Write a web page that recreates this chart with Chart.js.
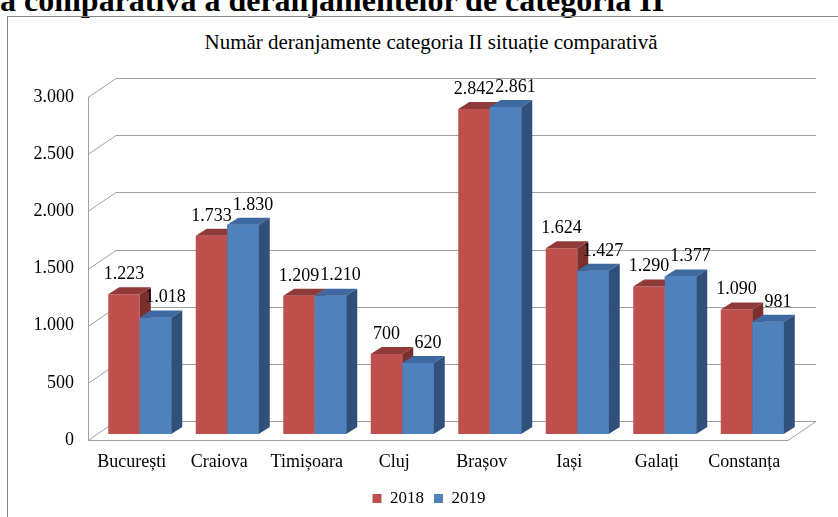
<!DOCTYPE html>
<html>
<head>
<meta charset="utf-8">
<script src="https://cdn.jsdelivr.net/npm/chart.js@4.4.0/dist/chart.umd.min.js"></script>
<style>
  body { margin: 0; background: #fff; overflow: hidden; }
  #wrap { position: relative; width: 838px; height: 517px; overflow: hidden; }
  #heading {
    position: absolute; left: 0; top: -16px; white-space: nowrap;
    font: bold 32px 'Liberation Serif', 'Times New Roman', serif; line-height: 32px; color: #000;
  }
  #box { position: absolute; left: 7px; top: 16px; width: 900px; height: 600px; border: 1px solid #868686; }
  #title {
    position: absolute; left: 0; width: 862px; top: 29px; text-align: center; white-space: nowrap;
    font: 21px 'Liberation Serif', 'Times New Roman', serif; line-height: 26px; color: #000;
  }
  #chart { position: absolute; left: 0; top: 0; }
</style>
</head>
<body>
<div id="wrap">
  <div id="heading">a comparativă a deranjamentelor de categoria II</div>
  <div id="box"></div>
  <div id="title">Număr deranjamente categoria II situație comparativă</div>
  <canvas id="chart" width="838" height="517"></canvas>
</div>
<script>
const cities = ['București', 'Craiova', 'Timișoara', 'Cluj', 'Brașov', 'Iași', 'Galați', 'Constanța'];
const values2018 = [1223, 1733, 1209, 700, 2842, 1624, 1290, 1090];
const values2019 = [1018, 1830, 1210, 620, 2861, 1427, 1377, 981];
const yTicks = [0, 500, 1000, 1500, 2000, 2500, 3000];

const FONT = "'Liberation Serif', 'Times New Roman', serif";
const colors = {
  red: '#c0504d', redTop: '#8f3a38', redSide: '#7b302e',
  blue: '#4f81bd', blueTop: '#3e68a0', blueSide: '#2f507b',
};

// 3D geometry (px)
const wall = { dx: 28, dy: -19 };
const barShift = { dx: 8, dy: -6 };
const barDepth = { dx: 11, dy: -7 };

const fmt = (v) => String(v).replace(/\B(?=(\d{3})+(?!\d))/g, '.');

const poly = (ctx, pts, fill) => {
  ctx.beginPath();
  ctx.moveTo(pts[0][0], pts[0][1]);
  pts.slice(1).forEach((p) => ctx.lineTo(p[0], p[1]));
  ctx.closePath();
  ctx.fillStyle = fill;
  ctx.fill();
};

const drawFaces = (ctx, bar, base, top, side) => {
  const x1 = bar.x - bar.width / 2;
  const x2 = bar.x + bar.width / 2;
  const yt = bar.y;
  poly(ctx, [[x1, yt], [x1 + barDepth.dx, yt + barDepth.dy], [x2 + barDepth.dx, yt + barDepth.dy], [x2, yt]], top);
  poly(ctx, [[x2, yt], [x2 + barDepth.dx, yt + barDepth.dy], [x2 + barDepth.dx, base + barDepth.dy], [x2, base]], side);
};

const threeD = {
  id: 'threeD',
  afterLayout(chart) {
    // legend sits a bit right of the canvas centre
    chart.legend.left += 30;
    chart.legend.right += 30;
  },
  beforeDatasetsDraw(chart) {
    const { ctx, chartArea: a, scales: { y } } = chart;
    ctx.save();
    ctx.strokeStyle = '#a0a0a0';
    ctx.lineWidth = 1;
    // floor
    const y0 = Math.round(y.getPixelForValue(0)) + 0.5;
    ctx.beginPath();
    ctx.moveTo(a.left, y0);
    ctx.lineTo(a.right, y0);
    ctx.lineTo(a.right + wall.dx, y0 + wall.dy);
    ctx.stroke();
    // back wall grid + left wall diagonals
    yTicks.forEach((t) => {
      const py = Math.round(y.getPixelForValue(t)) + 0.5;
      ctx.beginPath();
      ctx.moveTo(a.left, py);
      ctx.lineTo(a.left + wall.dx, py + wall.dy);
      ctx.lineTo(a.right + wall.dx, py + wall.dy);
      ctx.stroke();
    });
    // front left axis
    ctx.beginPath();
    ctx.moveTo(a.left + 0.5, y.getPixelForValue(3000));
    ctx.lineTo(a.left + 0.5, y0);
    ctx.stroke();
    ctx.restore();
  },
  beforeDatasetDraw(chart) {
    chart.ctx.save();
    chart.ctx.translate(barShift.dx, barShift.dy);
  },
  afterDatasetDraw(chart) {
    chart.ctx.restore();
  },
  afterDatasetsDraw(chart) {
    // red faces first, then blue front + faces on top of them
    const { ctx } = chart;
    const base = chart.scales.y.getPixelForValue(0);
    const red = chart.getDatasetMeta(0).data;
    const blue = chart.getDatasetMeta(1).data;
    ctx.save();
    ctx.translate(barShift.dx, barShift.dy);
    red.forEach((bar, i) => {
      drawFaces(ctx, bar, base, colors.redTop, colors.redSide);
      blue[i].draw(ctx);
      drawFaces(ctx, blue[i], base, colors.blueTop, colors.blueSide);
    });
    ctx.restore();
  },
  afterDraw(chart) {
    const { ctx } = chart;
    ctx.save();
    ctx.font = `18px ${FONT}`;
    ctx.fillStyle = '#000';
    ctx.textAlign = 'center';
    ctx.textBaseline = 'middle';
    chart.data.datasets.forEach((ds, i) => {
      const meta = chart.getDatasetMeta(i);
      meta.data.forEach((bar, j) => {
        const off = i === 0 ? 0 : 10;
        ctx.fillText(fmt(ds.data[j]), bar.x + barShift.dx + off, bar.y + barShift.dy - 20);
      });
    });
    ctx.restore();
  },
};

new Chart(document.getElementById('chart'), {
  type: 'bar',
  data: {
    labels: cities,
    datasets: [
      { label: '2018', data: values2018, backgroundColor: colors.red, clip: false },
      { label: '2019', data: values2019, backgroundColor: colors.blue, clip: false },
    ],
  },
  plugins: [threeD],
  options: {
    responsive: false,
    animation: false,
    events: [],
    datasets: { bar: { categoryPercentage: 0.72, barPercentage: 1 } },
    layout: { padding: { left: 10, right: 50, top: 97, bottom: 0 } },
    scales: {
      x: {
        grid: { display: false, drawTicks: false },
        border: { display: false },
        ticks: { color: '#000', font: { family: FONT, size: 18 }, padding: 11, maxRotation: 0 },
        afterFit(scale) { scale.height = 40; },
      },
      y: {
        min: 0,
        max: 3000,
        grid: { display: false, drawTicks: false },
        border: { display: false },
        ticks: { stepSize: 500, color: '#000', font: { family: FONT, size: 18 }, padding: 14, callback: (v) => fmt(v) },
        afterFit(scale) { scale.width = 78; },
      },
    },
    plugins: {
      tooltip: { enabled: false },
      title: { display: false },
      legend: {
        position: 'bottom',
        labels: { color: '#000', font: { family: FONT, size: 17 }, boxWidth: 9, boxHeight: 9, padding: 10 },
      },
    },
  },
});
</script>
</body>
</html>
